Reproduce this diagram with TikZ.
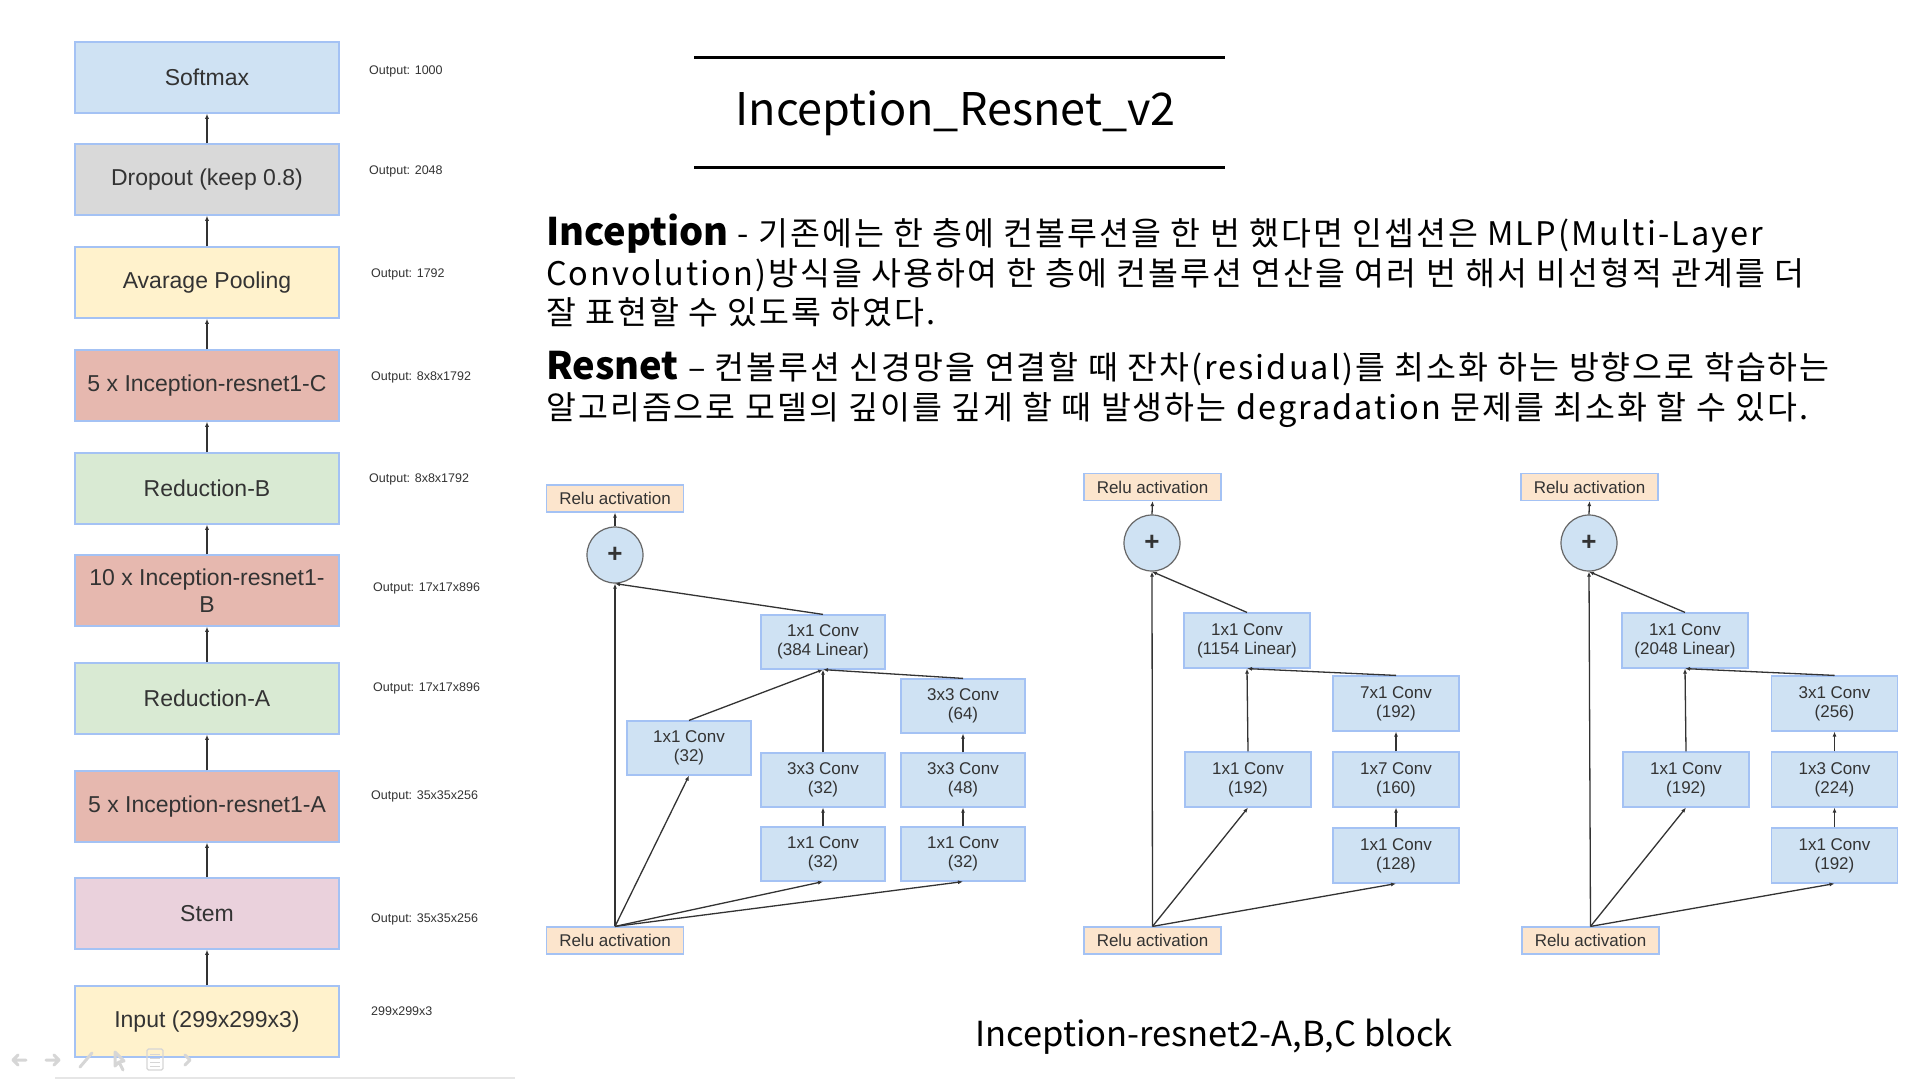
\documentclass[tikz,border=0pt]{standalone}
\usepackage{fontspec}
\setmainfont{Noto Sans CJK KR}
\newfontfamily\bodyfont[LetterSpace=6.3]{Noto Sans CJK KR}
\newfontfamily\arial{Liberation Sans}
\usetikzlibrary{arrows.meta}

\definecolor{ink}{HTML}{333333}
\definecolor{boxline}{HTML}{A4C2F4}
\definecolor{convblue}{HTML}{CFE2F3}
\definecolor{dropgray}{HTML}{D9D9D9}
\definecolor{poolyellow}{HTML}{FFF2CC}
\definecolor{resred}{HTML}{E6B8AF}
\definecolor{redgreen}{HTML}{D9EAD3}
\definecolor{stempink}{HTML}{EAD1DC}
\definecolor{reluorange}{HTML}{FCE5CD}
\definecolor{navgray}{HTML}{D6D6D6}

\tikzset{
  stage/.style={rectangle, draw=boxline, line width=1.5pt, minimum width=264pt,
    minimum height=71pt, inner sep=0pt, align=center, text=ink,
    font=\arial\fontsize{23pt}{27pt}\selectfont},
  outlbl/.style={anchor=west, inner sep=0pt, text=ink,
    font=\arial\fontsize{12.5pt}{14pt}\selectfont},
  conv/.style={rectangle, draw=boxline, line width=1.2pt, fill=convblue,
    minimum width=124pt, minimum height=54pt, inner sep=0pt, align=center,
    text=ink, font=\arial\fontsize{17pt}{19pt}\selectfont},
  relu/.style={rectangle, draw=boxline, line width=1.2pt, fill=reluorange,
    minimum width=137pt, minimum height=27pt, inner sep=0pt, text=ink,
    font=\arial\fontsize{17pt}{19pt}\selectfont},
  addop/.style={circle, draw=black!60, line width=1.2pt, fill=convblue,
    minimum size=56pt, inner sep=0pt, text=ink,
    font=\arial\bfseries\fontsize{26pt}{26pt}\selectfont},
  flow/.style={draw=ink, line width=1.3pt, -{Latex[length=5pt,width=4pt]}},
  bodyline/.style={anchor=base west, inner sep=0pt, text=black,
    font=\bodyfont\fontsize{32.5pt}{36pt}\selectfont},
  nav/.style={draw=navgray, line width=3pt, line cap=round, line join=round},
}

\newcommand{\headword}[1]{{\normalfont\fontsize{38pt}{40pt}\selectfont\bfseries #1}}

\begin{document}
\begin{tikzpicture}[x=1pt,y=-1pt]
\fill[white] (0,0) rectangle (1920,1080);
\useasboundingbox (0,0) rectangle (1920,1080);

% ---------- network overview (left column) ----------
\node[stage, fill=convblue]   (softmax) at (207,77.5)  {Softmax};
\node[stage, fill=dropgray]   (dropout) at (207,179.5) {Dropout (keep 0.8)};
\node[stage, fill=poolyellow] (avgpool) at (207,282.5) {Avarage Pooling};
\node[stage, fill=resred]     (resC)    at (207,385.5) {5 x Inception-resnet1-C};
\node[stage, fill=redgreen]   (redB)    at (207,488.5) {Reduction-B};
\node[stage, fill=resred]     (resB)    at (207,590.5) {10 x Inception-resnet1-\\B};
\node[stage, fill=redgreen]   (redA)    at (207,698.5) {Reduction-A};
\node[stage, fill=resred]     (resA)    at (207,806.5) {5 x Inception-resnet1-A};
\node[stage, fill=stempink]   (stem)    at (207,913.5) {Stem};
\node[stage, fill=poolyellow] (input)   at (207,1021.5){Input (299x299x3)};

\foreach \lo/\hi in {input/stem, stem/resA, resA/redA, redA/resB, resB/redB,
                     redB/resC, resC/avgpool, avgpool/dropout, dropout/softmax}
  \draw[flow] (\lo.north) -- (\hi.south);

\node[outlbl] (o1)  at (369,71)   {Output: 1000};
\node[outlbl] (o2)  at (369,171)  {Output: 2048};
\node[outlbl] (o3)  at (371,274)  {Output: 1792};
\node[outlbl] (o4)  at (371,377)  {Output: 8x8x1792};
\node[outlbl] (o5)  at (369,479)  {Output: 8x8x1792};
\node[outlbl] (o6)  at (373,588)  {Output: 17x17x896};
\node[outlbl] (o7)  at (373,688)  {Output: 17x17x896};
\node[outlbl] (o8)  at (371,796)  {Output: 35x35x256};
\node[outlbl] (o9)  at (371,919)  {Output: 35x35x256};
\node[outlbl] (o10) at (371,1011) {299x299x3};

% ---------- title ----------
\draw[line width=3pt] (694,57) -- (1225,57);
\draw[line width=3pt] (694,167) -- (1225,167);
\node[anchor=base, inner sep=0pt, font=\fontsize{45pt}{48pt}\selectfont] (title) at (955.5,125) {Inception\_Resnet\_v2};

% ---------- description ----------
\node[bodyline] (t1) at (546,245) {\headword{Inception} - 기존에는 한 층에 컨볼루션을 한 번 했다면 인셉션은 MLP(Multi-Layer};
\node[bodyline] (t2) at (546,285) {Convolution)방식을 사용하여 한 층에 컨볼루션 연산을 여러 번 해서 비선형적 관계를 더};
\node[bodyline] (t3) at (546,324) {잘 표현할 수 있도록 하였다.};
\node[bodyline] (t4) at (546,379) {\headword{Resnet} – 컨볼루션 신경망을 연결할 때 잔차(residual)를 최소화 하는 방향으로 학습하는};
\node[bodyline] (t5) at (546,419) {알고리즘으로 모델의 깊이를 깊게 할 때 발생하는 degradation 문제를 최소화 할 수 있다.};

% ---------- block A ----------
\node[relu]  (aTop) at (615,498.5) {Relu activation};
\node[addop] (aSum) at (615,555)   {+};
\node[relu]  (aBot) at (615,940.5) {Relu activation};
\node[conv]  (aLin) at (823,642)   {1x1 Conv\\(384 Linear)};
\node[conv]  (aP1)  at (689,748)   {1x1 Conv\\(32)};
\node[conv]  (aQ2)  at (823,780)   {3x3 Conv\\(32)};
\node[conv]  (aQ1)  at (823,854)   {1x1 Conv\\(32)};
\node[conv]  (aR3)  at (963,706)   {3x3 Conv\\(64)};
\node[conv]  (aR2)  at (963,780)   {3x3 Conv\\(48)};
\node[conv]  (aR1)  at (963,854)   {1x1 Conv\\(32)};

\draw[flow] (aBot.north) -- (aSum.south);
\draw[flow] (aBot.north) -- (aP1.south);
\draw[flow] (aBot.north) -- (aQ1.south);
\draw[flow] (aBot.north) -- (aR1.south);
\draw[flow] (aQ1.north) -- (aQ2.south);
\draw[flow] (aR1.north) -- (aR2.south);
\draw[flow] (aR2.north) -- (aR3.south);
\draw[flow] (aP1.north) -- (aLin.south);
\draw[flow] (aQ2.north) -- (aLin.south);
\draw[flow] (aR3.north) -- (aLin.south);
\draw[flow] (aLin.north) -- (aSum.south);
\draw[flow] (aSum.north) -- (aTop.south);

% ---------- block B ----------
\node[relu]  (bTop) at (1152.5,487)   {Relu activation};
\node[addop] (bSum) at (1152,543)     {+};
\node[relu]  (bBot) at (1152.5,940.5) {Relu activation};
\node[conv, minimum width=126pt, minimum height=55pt] (bLin) at (1247,640.5) {1x1 Conv\\(1154 Linear)};
\node[conv, minimum width=126pt, minimum height=55pt] (bP1)  at (1248,779.5) {1x1 Conv\\(192)};
\node[conv, minimum width=126pt, minimum height=55pt] (bR3)  at (1396,703.5) {7x1 Conv\\(192)};
\node[conv, minimum width=126pt, minimum height=55pt] (bR2)  at (1396,779.5) {1x7 Conv\\(160)};
\node[conv, minimum width=126pt, minimum height=55pt] (bR1)  at (1396,855.5) {1x1 Conv\\(128)};

\draw[flow] (bBot.north) -- (bSum.south);
\draw[flow] (bBot.north) -- (bP1.south);
\draw[flow] (bBot.north) -- (bR1.south);
\draw[flow] (bR1.north) -- (bR2.south);
\draw[flow] (bR2.north) -- (bR3.south);
\draw[flow] (bP1.north) -- (bLin.south);
\draw[flow] (bR3.north) -- (bLin.south);
\draw[flow] (bLin.north) -- (bSum.south);
\draw[flow] (bSum.north) -- (bTop.south);

% ---------- block C ----------
\node[relu]  (cTop) at (1589.5,487)   {Relu activation};
\node[addop] (cSum) at (1589,543)     {+};
\node[relu]  (cBot) at (1590.5,940.5) {Relu activation};
\node[conv, minimum width=126pt, minimum height=55pt] (cLin) at (1685,640.5)   {1x1 Conv\\(2048 Linear)};
\node[conv, minimum width=126pt, minimum height=55pt] (cP1)  at (1686,779.5)   {1x1 Conv\\(192)};
\node[conv, minimum width=126pt, minimum height=55pt] (cR3)  at (1834.5,703.5) {3x1 Conv\\(256)};
\node[conv, minimum width=126pt, minimum height=55pt] (cR2)  at (1834.5,779.5) {1x3 Conv\\(224)};
\node[conv, minimum width=126pt, minimum height=55pt] (cR1)  at (1834.5,855.5) {1x1 Conv\\(192)};

\draw[flow] (cBot.north) -- (cSum.south);
\draw[flow] (cBot.north) -- (cP1.south);
\draw[flow] (cBot.north) -- (cR1.south);
\draw[flow] (cR1.north) -- (cR2.south);
\draw[flow] (cR2.north) -- (cR3.south);
\draw[flow] (cP1.north) -- (cLin.south);
\draw[flow] (cR3.north) -- (cLin.south);
\draw[flow] (cLin.north) -- (cSum.south);
\draw[flow] (cSum.north) -- (cTop.south);

% ---------- caption ----------
\node[anchor=base west, inner sep=0pt, font=\fontsize{34.5pt}{38pt}\selectfont] (caption) at (975,1046) {Inception-resnet2-A,B,C block};

% ---------- slide-show controls ----------
\draw[nav] (26,1060) -- (13,1060) (18,1055) -- (13,1060) -- (18,1065);
\draw[nav] (46,1060) -- (59,1060) (54,1055) -- (59,1060) -- (54,1065);
\draw[nav] (80,1067) -- (92,1053);
\draw[nav] (115,1052) -- (115,1066) -- (119,1062) -- (123,1070) (115,1052) -- (124,1061) -- (119,1062);
\draw[draw=navgray, line width=1.2pt, rounded corners=1.5pt] (147,1049) rectangle (163,1070);
\foreach \yy in {1054,1058,1062,1066} \draw[draw=navgray, line width=0.8pt] (150,\yy) -- (160,\yy);
\draw[nav] (185,1055) -- (190,1060) -- (185,1065);
\draw[draw=navgray!60, line width=1.2pt] (55,1078) -- (515,1078);

\end{tikzpicture}
\end{document}
